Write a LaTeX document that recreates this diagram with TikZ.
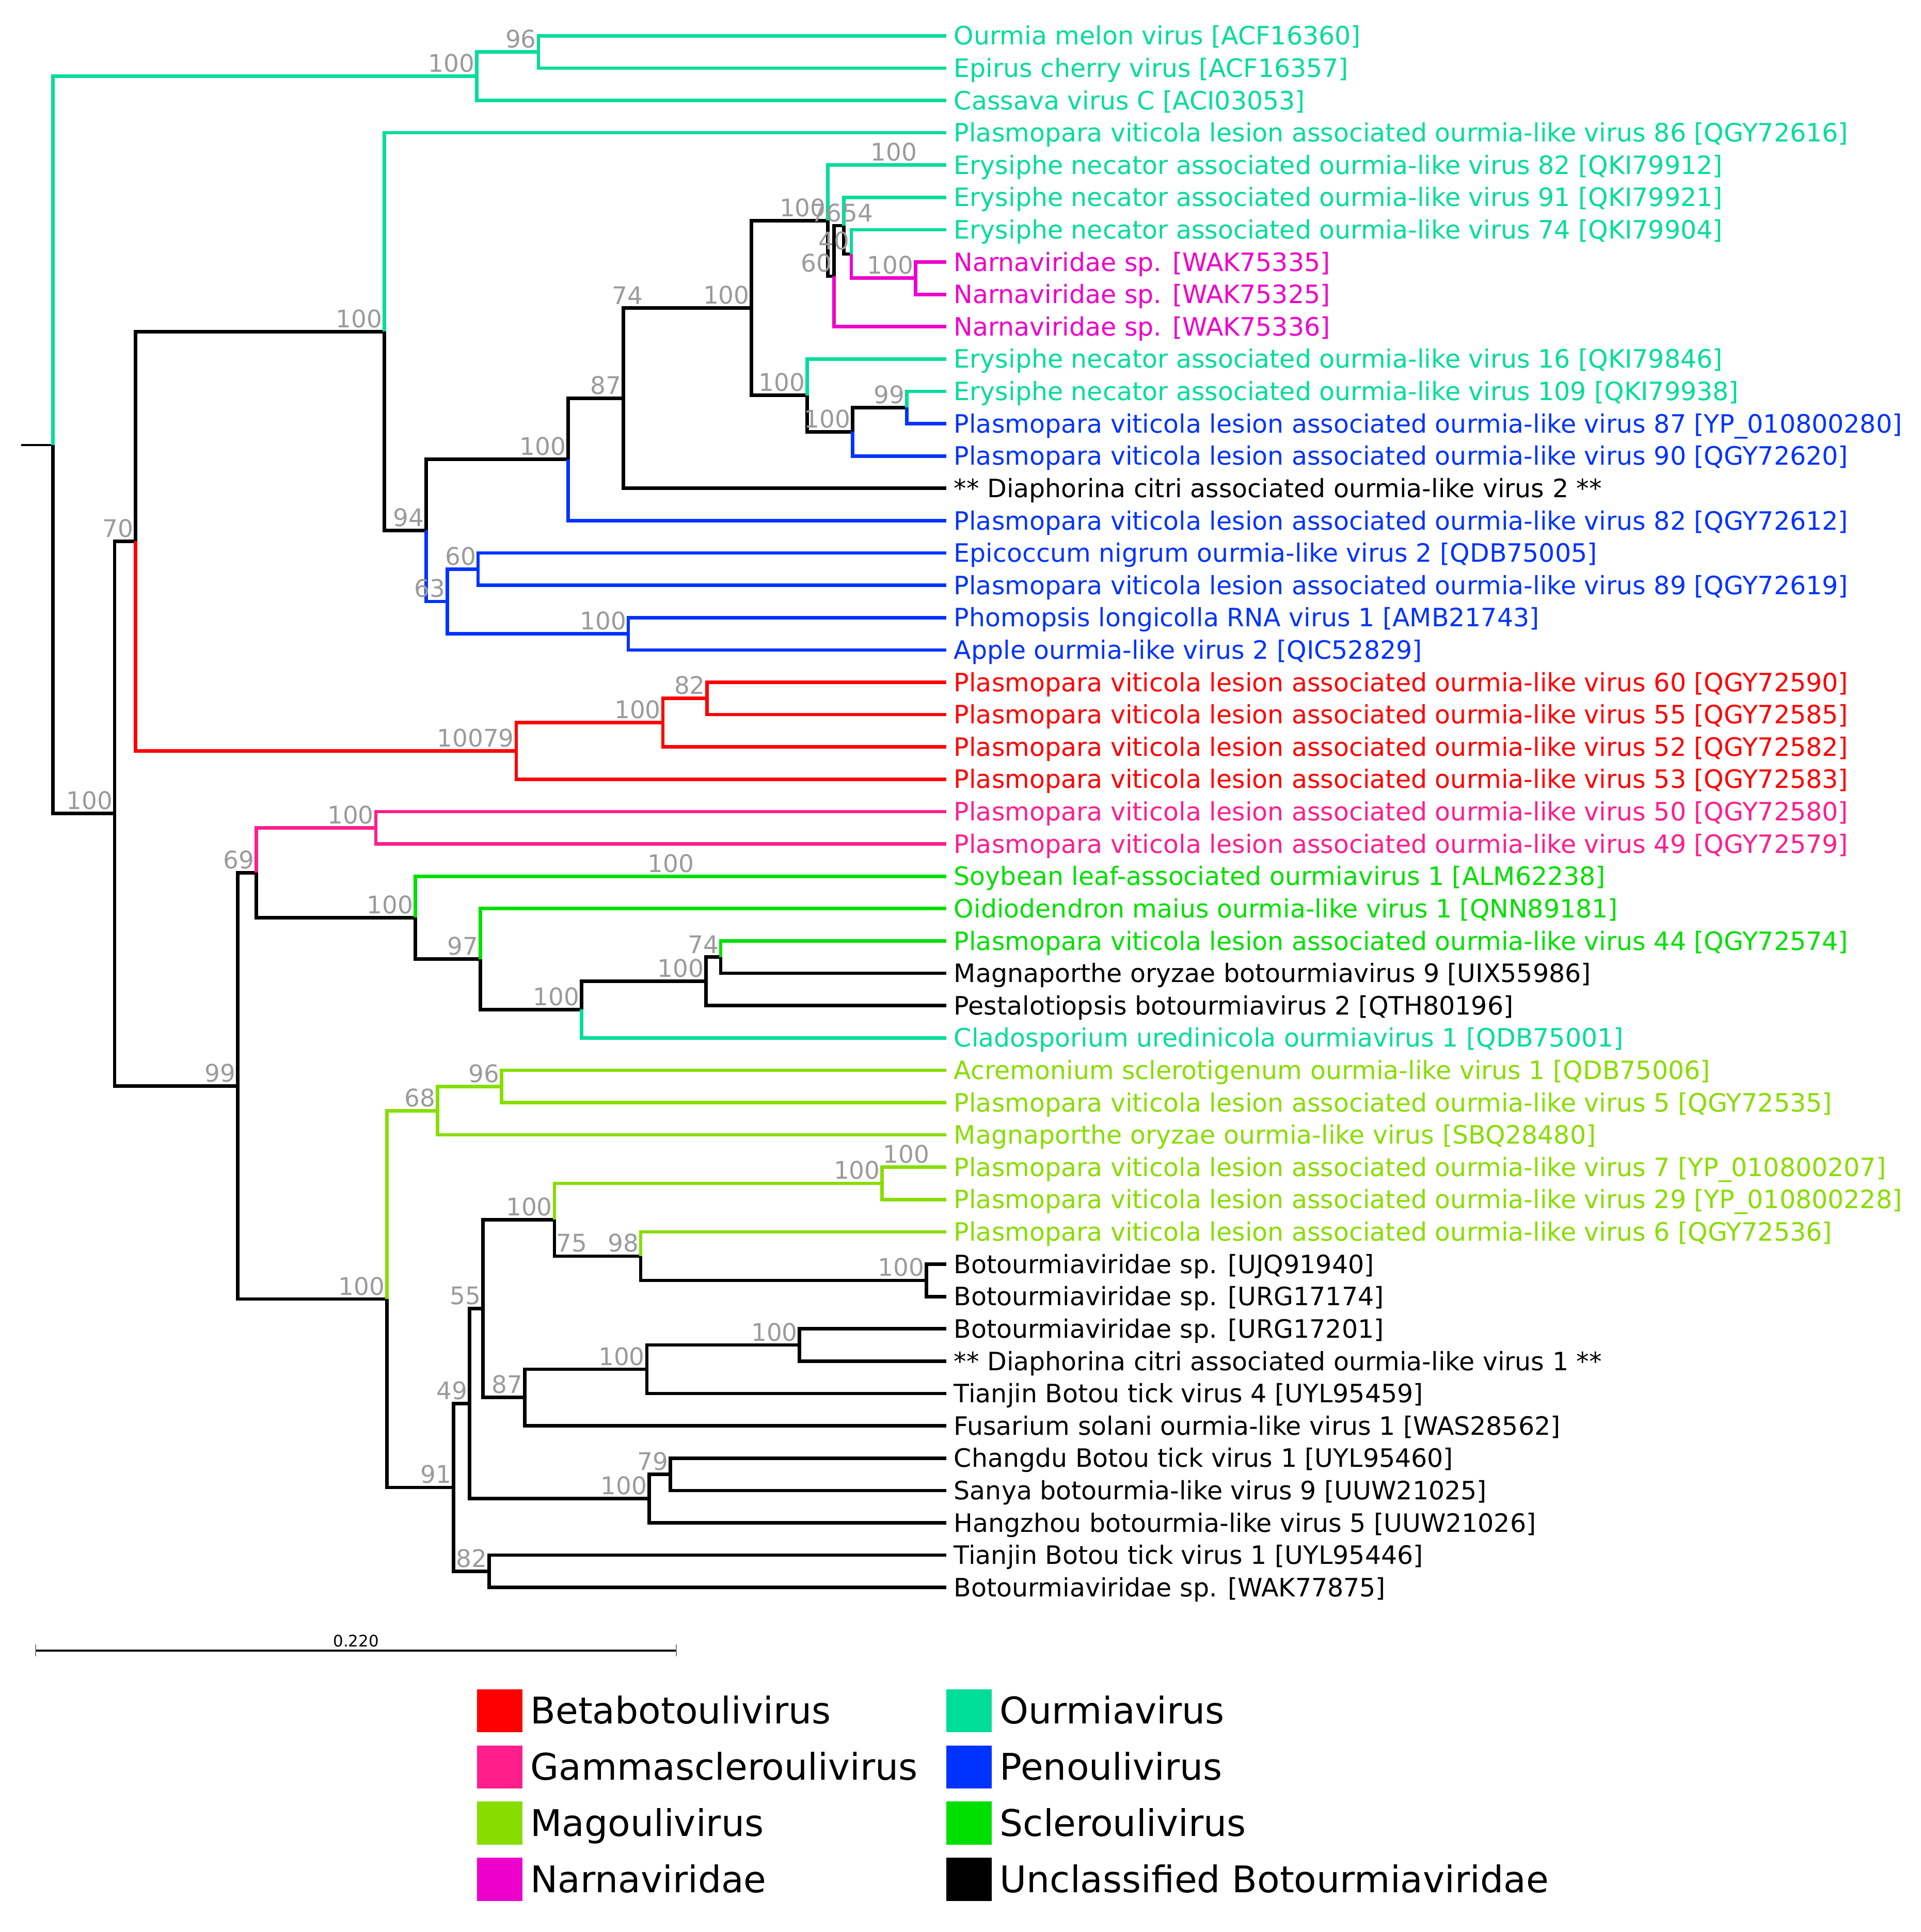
\documentclass[tikz,border=0pt]{standalone}
\usepackage{fontspec}
\setmainfont{DejaVu Sans}
\usepackage{tikz}
\usetikzlibrary{positioning}

\definecolor{ourmia}{RGB}{0,221,153}
\definecolor{penou}{RGB}{0,51,255}
\definecolor{betabot}{RGB}{255,0,0}
\definecolor{gammascl}{RGB}{255,30,140}
\definecolor{magou}{RGB}{136,221,0}
\definecolor{narna}{RGB}{238,0,204}
\definecolor{sclerou}{RGB}{0,224,0}
\definecolor{bsgray}{RGB}{155,155,155}

\newcommand\leaffont{\fontsize{14.6pt}{17pt}\selectfont}
\newcommand\bsfont{\fontsize{14pt}{17pt}\selectfont}
\newcommand\legfont{\fontsize{21.2pt}{25pt}\selectfont}

\begin{document}
\begin{tikzpicture}[x=0.025cm, y=-0.025cm,
	br/.style={line width=2pt},
	stub/.style={line width=1.2pt},
	leaf/.style={font=\leaffont, anchor=west, inner xsep=0.15cm, inner ysep=0pt, text height=12pt, text depth=1.5pt},
	bs/.style={font=\bsfont, text=bsgray, anchor=south east, inner xsep=1pt, inner ysep=2pt},
	legbox/.style={minimum width=0.925cm, minimum height=0.875cm, inner sep=0pt},
	legtext/.style={font=\legfont, inner sep=0pt, node distance=0.15cm, text height=17pt, text depth=2pt}]
\useasboundingbox (0,0) rectangle (1559,1568);

\begin{scope}[y=-0.65575cm, yshift=-0.06925cm]
	% inner nodes (x, leaf row)
	\coordinate (root) at (17,13.65564);
	\coordinate (n43) at (43,13.65564);
	\coordinate (n387) at (387,2.25);
	\coordinate (n437) at (437,1.5);
	\coordinate (n93) at (93,25.06128);
	\coordinate (n109) at (110,16.638184);
	\coordinate (n312) at (312,10.151367);
	\coordinate (n346) at (346,16.302734);
	\coordinate (n461) at (461,14.105469);
	\coordinate (n506) at (506,12.210938);
	\coordinate (n610) at (610,9.421875);
	\coordinate (n672) at (672,6.71875);
	\coordinate (n677) at (677,8.4375);
	\coordinate (n685) at (685,6.875);
	\coordinate (n691) at (691,7.75);
	\coordinate (n743) at (743,8.5);
	\coordinate (n655) at (655,12.125);
	\coordinate (n692) at (692,13.25);
	\coordinate (n736) at (736,12.5);
	\coordinate (n363) at (363,18.5);
	\coordinate (n388) at (388,17.5);
	\coordinate (n510) at (510,19.5);
	\coordinate (n419) at (419,23.125);
	\coordinate (n538) at (538,22.25);
	\coordinate (n574) at (574,21.5);
	\coordinate (n193) at (193,33.484375);
	\coordinate (n208) at (208,26.890625);
	\coordinate (n305) at (305,25.5);
	\coordinate (n337) at (337,28.28125);
	\coordinate (n390) at (390,29.5625);
	\coordinate (n472) at (472,31.125);
	\coordinate (n573) at (573,30.25);
	\coordinate (n585) at (585,29.5);
	\coordinate (n314) at (314,40.078125);
	\coordinate (n355) at (355,34.25);
	\coordinate (n407) at (407,33.5);
	\coordinate (n368) at (368,45.90625);
	\coordinate (n381) at (381,43.3125);
	\coordinate (n392) at (392,40.375);
	\coordinate (n450) at (450,37.625);
	\coordinate (n716) at (716,36.5);
	\coordinate (n520) at (520,38.75);
	\coordinate (n752) at (752,39.5);
	\coordinate (n426) at (426,43.125);
	\coordinate (n525) at (525,42.25);
	\coordinate (n649) at (649,41.5);
	\coordinate (n527) at (527,46.25);
	\coordinate (n544) at (544,45.5);
	\coordinate (n397) at (397,48.5);

	% leaves
	\node[leaf, text=ourmia] (l1) at (768,1) {Ourmia melon virus [ACF16360]};
	\node[leaf, text=ourmia] (l2) at (768,2) {Epirus cherry virus [ACF16357]};
	\node[leaf, text=ourmia] (l3) at (768,3) {Cassava virus C [ACI03053]};
	\node[leaf, text=ourmia] (l4) at (768,4) {Plasmopara viticola lesion associated ourmia-like virus 86 [QGY72616]};
	\node[leaf, text=ourmia] (l5) at (768,5) {Erysiphe necator associated ourmia-like virus 82 [QKI79912]};
	\node[leaf, text=ourmia] (l6) at (768,6) {Erysiphe necator associated ourmia-like virus 91 [QKI79921]};
	\node[leaf, text=ourmia] (l7) at (768,7) {Erysiphe necator associated ourmia-like virus 74 [QKI79904]};
	\node[leaf, text=narna] (l8) at (768,8) {Narnaviridae sp. [WAK75335]};
	\node[leaf, text=narna] (l9) at (768,9) {Narnaviridae sp. [WAK75325]};
	\node[leaf, text=narna] (l10) at (768,10) {Narnaviridae sp. [WAK75336]};
	\node[leaf, text=ourmia] (l11) at (768,11) {Erysiphe necator associated ourmia-like virus 16 [QKI79846]};
	\node[leaf, text=ourmia] (l12) at (768,12) {Erysiphe necator associated ourmia-like virus 109 [QKI79938]};
	\node[leaf, text=penou] (l13) at (768,13) {Plasmopara viticola lesion associated ourmia-like virus 87 [YP\_010800280]};
	\node[leaf, text=penou] (l14) at (768,14) {Plasmopara viticola lesion associated ourmia-like virus 90 [QGY72620]};
	\node[leaf] (l15) at (768,15) {** Diaphorina citri associated ourmia-like virus 2 **};
	\node[leaf, text=penou] (l16) at (768,16) {Plasmopara viticola lesion associated ourmia-like virus 82 [QGY72612]};
	\node[leaf, text=penou] (l17) at (768,17) {Epicoccum nigrum ourmia-like virus 2 [QDB75005]};
	\node[leaf, text=penou] (l18) at (768,18) {Plasmopara viticola lesion associated ourmia-like virus 89 [QGY72619]};
	\node[leaf, text=penou] (l19) at (768,19) {Phomopsis longicolla RNA virus 1 [AMB21743]};
	\node[leaf, text=penou] (l20) at (768,20) {Apple ourmia-like virus 2 [QIC52829]};
	\node[leaf, text=betabot] (l21) at (768,21) {Plasmopara viticola lesion associated ourmia-like virus 60 [QGY72590]};
	\node[leaf, text=betabot] (l22) at (768,22) {Plasmopara viticola lesion associated ourmia-like virus 55 [QGY72585]};
	\node[leaf, text=betabot] (l23) at (768,23) {Plasmopara viticola lesion associated ourmia-like virus 52 [QGY72582]};
	\node[leaf, text=betabot] (l24) at (768,24) {Plasmopara viticola lesion associated ourmia-like virus 53 [QGY72583]};
	\node[leaf, text=gammascl] (l25) at (768,25) {Plasmopara viticola lesion associated ourmia-like virus 50 [QGY72580]};
	\node[leaf, text=gammascl] (l26) at (768,26) {Plasmopara viticola lesion associated ourmia-like virus 49 [QGY72579]};
	\node[leaf, text=sclerou] (l27) at (768,27) {Soybean leaf-associated ourmiavirus 1 [ALM62238]};
	\node[leaf, text=sclerou] (l28) at (768,28) {Oidiodendron maius ourmia-like virus 1 [QNN89181]};
	\node[leaf, text=sclerou] (l29) at (768,29) {Plasmopara viticola lesion associated ourmia-like virus 44 [QGY72574]};
	\node[leaf] (l30) at (768,30) {Magnaporthe oryzae botourmiavirus 9 [UIX55986]};
	\node[leaf] (l31) at (768,31) {Pestalotiopsis botourmiavirus 2 [QTH80196]};
	\node[leaf, text=ourmia] (l32) at (768,32) {Cladosporium uredinicola ourmiavirus 1 [QDB75001]};
	\node[leaf, text=magou] (l33) at (768,33) {Acremonium sclerotigenum ourmia-like virus 1 [QDB75006]};
	\node[leaf, text=magou] (l34) at (768,34) {Plasmopara viticola lesion associated ourmia-like virus 5 [QGY72535]};
	\node[leaf, text=magou] (l35) at (768,35) {Magnaporthe oryzae ourmia-like virus [SBQ28480]};
	\node[leaf, text=magou] (l36) at (768,36) {Plasmopara viticola lesion associated ourmia-like virus 7 [YP\_010800207]};
	\node[leaf, text=magou] (l37) at (768,37) {Plasmopara viticola lesion associated ourmia-like virus 29 [YP\_010800228]};
	\node[leaf, text=magou] (l38) at (768,38) {Plasmopara viticola lesion associated ourmia-like virus 6 [QGY72536]};
	\node[leaf] (l39) at (768,39) {Botourmiaviridae sp. [UJQ91940]};
	\node[leaf] (l40) at (768,40) {Botourmiaviridae sp. [URG17174]};
	\node[leaf] (l41) at (768,41) {Botourmiaviridae sp. [URG17201]};
	\node[leaf] (l42) at (768,42) {** Diaphorina citri associated ourmia-like virus 1 **};
	\node[leaf] (l43) at (768,43) {Tianjin Botou tick virus 4 [UYL95459]};
	\node[leaf] (l44) at (768,44) {Fusarium solani ourmia-like virus 1 [WAS28562]};
	\node[leaf] (l45) at (768,45) {Changdu Botou tick virus 1 [UYL95460]};
	\node[leaf] (l46) at (768,46) {Sanya botourmia-like virus 9 [UUW21025]};
	\node[leaf] (l47) at (768,47) {Hangzhou botourmia-like virus 5 [UUW21026]};
	\node[leaf] (l48) at (768,48) {Tianjin Botou tick virus 1 [UYL95446]};
	\node[leaf] (l49) at (768,49) {Botourmiaviridae sp. [WAK77875]};

	% branches, coloured as the clade below them
	\draw[stub] (root) -- (n43);
	\draw[br, ourmia] (n43) |- (n387);
	\draw[br, ourmia] (n387) |- (n437);
	\draw[br, ourmia] (n437) |- (l1.west);
	\draw[br, ourmia] (n437) |- (l2.west);
	\draw[br, ourmia] (n387) |- (l3.west);
	\draw[br] (n43) |- (n93);
	\draw[br] (n93) |- (n109);
	\draw[br] (n93) |- (n193);
	\draw[br] (n109) |- (n312);
	\draw[br, betabot] (n109) |- (n419);
	\draw[br, ourmia] (n312) |- (l4.west);
	\draw[br] (n312) |- (n346);
	\draw[br] (n346) |- (n461);
	\draw[br, penou] (n346) |- (n363);
	\draw[br] (n461) |- (n506);
	\draw[br, penou] (n461) |- (l16.west);
	\draw[br] (n506) |- (n610);
	\draw[br] (n506) |- (l15.west);
	\draw[br] (n610) |- (n672);
	\draw[br] (n610) |- (n655);
	\draw[br, ourmia] (n672) |- (l5.west);
	\draw[br] (n672) |- (n677);
	\draw[br] (n677) |- (n685);
	\draw[br, narna] (n677) |- (l10.west);
	\draw[br, ourmia] (n685) |- (l6.west);
	\draw[br] (n685) |- (n691);
	\draw[br, ourmia] (n691) |- (l7.west);
	\draw[br, narna] (n691) |- (n743);
	\draw[br, narna] (n743) |- (l8.west);
	\draw[br, narna] (n743) |- (l9.west);
	\draw[br, ourmia] (n655) |- (l11.west);
	\draw[br] (n655) |- (n692);
	\draw[br] (n692) |- (n736);
	\draw[br, penou] (n692) |- (l14.west);
	\draw[br, ourmia] (n736) |- (l12.west);
	\draw[br, penou] (n736) |- (l13.west);
	\draw[br, penou] (n363) |- (n388);
	\draw[br, penou] (n363) |- (n510);
	\draw[br, penou] (n388) |- (l17.west);
	\draw[br, penou] (n388) |- (l18.west);
	\draw[br, penou] (n510) |- (l19.west);
	\draw[br, penou] (n510) |- (l20.west);
	\draw[br, betabot] (n419) |- (n538);
	\draw[br, betabot] (n419) |- (l24.west);
	\draw[br, betabot] (n538) |- (n574);
	\draw[br, betabot] (n538) |- (l23.west);
	\draw[br, betabot] (n574) |- (l21.west);
	\draw[br, betabot] (n574) |- (l22.west);
	\draw[br] (n193) |- (n208);
	\draw[br] (n193) |- (n314);
	\draw[br, gammascl] (n208) |- (n305);
	\draw[br] (n208) |- (n337);
	\draw[br, gammascl] (n305) |- (l25.west);
	\draw[br, gammascl] (n305) |- (l26.west);
	\draw[br, sclerou] (n337) |- (l27.west);
	\draw[br] (n337) |- (n390);
	\draw[br, sclerou] (n390) |- (l28.west);
	\draw[br] (n390) |- (n472);
	\draw[br] (n472) |- (n573);
	\draw[br, ourmia] (n472) |- (l32.west);
	\draw[br] (n573) |- (n585);
	\draw[br] (n573) |- (l31.west);
	\draw[br, sclerou] (n585) |- (l29.west);
	\draw[br] (n585) |- (l30.west);
	\draw[br, magou] (n314) |- (n355);
	\draw[br] (n314) |- (n368);
	\draw[br, magou] (n355) |- (n407);
	\draw[br, magou] (n355) |- (l35.west);
	\draw[br, magou] (n407) |- (l33.west);
	\draw[br, magou] (n407) |- (l34.west);
	\draw[br] (n368) |- (n381);
	\draw[br] (n368) |- (n397);
	\draw[br] (n397) |- (l48.west);
	\draw[br] (n397) |- (l49.west);
	\draw[br] (n381) |- (n392);
	\draw[br] (n381) |- (n527);
	\draw[br] (n392) |- (n450);
	\draw[br] (n392) |- (n426);
	\draw[br, magou] (n450) |- (n716);
	\draw[br] (n450) |- (n520);
	\draw[br, magou] (n716) |- (l36.west);
	\draw[br, magou] (n716) |- (l37.west);
	\draw[br, magou] (n520) |- (l38.west);
	\draw[br] (n520) |- (n752);
	\draw[br] (n752) |- (l39.west);
	\draw[br] (n752) |- (l40.west);
	\draw[br] (n426) |- (n525);
	\draw[br] (n426) |- (l44.west);
	\draw[br] (n525) |- (n649);
	\draw[br] (n525) |- (l43.west);
	\draw[br] (n649) |- (l41.west);
	\draw[br] (n649) |- (l42.west);
	\draw[br] (n527) |- (n544);
	\draw[br] (n527) |- (l47.west);
	\draw[br] (n544) |- (l45.west);
	\draw[br] (n544) |- (l46.west);

	% support values
	\node[bs] (b387) at (n387) {100};
	\node[bs] (b437) at (n437) {96};
	\node[bs] (b5) at (746,5) {100};
	\node[bs] (b672) at (n672) {100};
	\node[bs] (b685) at (n685) {76};
	\node[bs, anchor=south west] (b685r) at (682,6.875) {54};
	\node[bs] (b677) at (n677) {60};
	\node[bs] (b691) at (n691) {40};
	\node[bs] (b743) at (n743) {100};
	\node[bs] (b610) at (n610) {100};
	\node[bs, anchor=south west] (b610l) at (495,9.421875) {74};
	\node[bs] (b506) at (n506) {87};
	\node[bs] (b461) at (n461) {100};
	\node[bs] (b346) at (n346) {94};
	\node[bs] (b312) at (n312) {100};
	\node[bs] (b655) at (n655) {100};
	\node[bs] (b692) at (n692) {100};
	\node[bs] (b736) at (n736) {99};
	\node[bs] (b363) at (n363) {63};
	\node[bs] (b388) at (n388) {60};
	\node[bs] (b510) at (n510) {100};
	\node[bs] (b109) at (n109) {70};
	\node[bs] (b93) at (n93) {100};
	\node[bs] (b419) at (n419) {10079};
	\node[bs] (b538) at (n538) {100};
	\node[bs] (b574) at (n574) {82};
	\node[bs] (b193) at (n193) {99};
	\node[bs] (b208) at (n208) {69};
	\node[bs] (b305) at (n305) {100};
	\node[bs] (b337) at (n337) {100};
	\node[bs] (b27) at (565,27) {100};
	\node[bs] (b390) at (n390) {97};
	\node[bs] (b472) at (n472) {100};
	\node[bs] (b573) at (n573) {100};
	\node[bs] (b585) at (n585) {74};
	\node[bs] (b314) at (n314) {100};
	\node[bs] (b355) at (n355) {68};
	\node[bs] (b407) at (n407) {96};
	\node[bs] (b716) at (n716) {100};
	\node[bs] (b36) at (756,36) {100};
	\node[bs] (b450) at (n450) {100};
	\node[bs, anchor=south west] (b520l) at (n450 |- n520) {75};
	\node[bs] (b520) at (n520) {98};
	\node[bs] (b752) at (n752) {100};
	\node[bs] (b392) at (n392) {55};
	\node[bs] (b426) at (n426) {87};
	\node[bs] (b525) at (n525) {100};
	\node[bs] (b649) at (n649) {100};
	\node[bs] (b381) at (n381) {49};
	\node[bs] (b527) at (n527) {100};
	\node[bs] (b544) at (n544) {79};
	\node[bs] (b368) at (n368) {91};
	\node[bs] (b397) at (n397) {82};
\end{scope}

% scale bar
\coordinate (sbl) at (29,1339.5);
\coordinate (sbr) at (549,1339.5);
\draw[line width=1.1pt] (sbl) -- (sbr);
\draw[line width=0.7pt, gray] ([yshift=0.12cm]sbl) -- ([yshift=-0.12cm]sbl);
\draw[line width=0.7pt, gray] ([yshift=0.12cm]sbr) -- ([yshift=-0.12cm]sbr);
\node[font=\fontsize{9.2pt}{11pt}\selectfont, anchor=south, inner sep=0pt] (sblab) at (289,1337) {0.220};

% legend
\node[legbox, fill=betabot] (kbeta) at (405.5,1388.5) {};
\node[legtext, right=of kbeta] (tbeta) {Betabotoulivirus};
\node[legbox, fill=gammascl, below=0.25cm of kbeta] (kgamma) {};
\node[legtext, right=of kgamma] (tgamma) {Gammascleroulivirus};
\node[legbox, fill=magou, below=0.25cm of kgamma] (kmagou) {};
\node[legtext, right=of kmagou] (tmagou) {Magoulivirus};
\node[legbox, fill=narna, below=0.25cm of kmagou] (knarna) {};
\node[legtext, right=of knarna] (tnarna) {Narnaviridae};
\node[legbox, fill=ourmia] (kourmia) at (786.5,1388.5) {};
\node[legtext, right=of kourmia] (tourmia) {Ourmiavirus};
\node[legbox, fill=penou, below=0.25cm of kourmia] (kpenou) {};
\node[legtext, right=of kpenou] (tpenou) {Penoulivirus};
\node[legbox, fill=sclerou, below=0.25cm of kpenou] (ksclerou) {};
\node[legtext, right=of ksclerou] (tsclerou) {Scleroulivirus};
\node[legbox, fill=black, below=0.25cm of ksclerou] (kunclass) {};
\node[legtext, right=of kunclass] (tunclass) {Unclassified Botourmiaviridae};
\end{tikzpicture}
\end{document}
